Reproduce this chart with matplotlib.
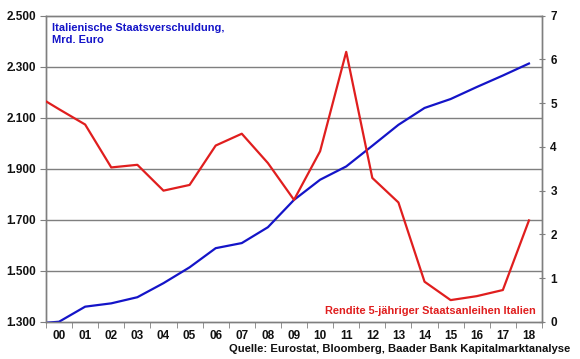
import matplotlib
matplotlib.use("Agg")
import matplotlib.pyplot as plt

plt.rcParams['font.family'] = ['Liberation Sans', 'DejaVu Sans']

# Data
year_pos = [-0.5, 0, 1, 2, 3, 4, 5, 6, 7, 8, 9, 10, 11, 12, 13, 14, 15, 16, 17, 18]
x_labels = ["00", "01", "02", "03", "04", "05", "06", "07", "08", "09",
            "10", "11", "12", "13", "14", "15", "16", "17", "18"]
debt = [1297, 1301, 1360, 1373, 1397, 1452, 1514, 1589, 1609, 1671, 1778,
        1857, 1909, 1990, 2072, 2138, 2173, 2220, 2265, 2312]
yield5 = [5.04, 4.86, 4.51, 3.53, 3.59, 3.00, 3.13, 4.03, 4.30, 3.63, 2.79,
          3.90, 6.17, 3.29, 2.73, 0.92, 0.50, 0.59, 0.73, 2.32]
left_ticks = [1300, 1500, 1700, 1900, 2100, 2300, 2500]
left_labels = ["1.300", "1.500", "1.700", "1.900", "2.100", "2.300", "2.500"]
right_ticks = [0, 1, 2, 3, 4, 5, 6, 7]

BLUE = "#1414c8"
RED = "#e01e1e"

fig = plt.figure(figsize=(5.8, 3.59), dpi=100)
ax = fig.add_axes([0.0793, 0.1031, 0.8552, 0.8537])
ax2 = ax.twinx()

ax.set_ylim(1300, 2500)
ax.set_xlim(-0.5, 18.5)
ax2.set_ylim(0, 7)

ax.set_yticks(left_ticks)
ax.set_yticklabels(left_labels)
for t in left_ticks[1:-1]:
    ax.axhline(t, color="#7f7f7f", lw=1.0, zorder=0)

ax.plot(year_pos, debt, color=BLUE, lw=1.6, zorder=3, clip_on=True)
ax2.plot(year_pos, yield5, color=RED, lw=1.6, zorder=3, clip_on=True)

ax.set_xticks(range(len(x_labels)))
ax.set_xticklabels(x_labels)
ax.set_xticks([i - 0.5 for i in range(len(x_labels) + 1)], minor=True)
ax.tick_params(axis="x", which="major", length=0, pad=6)
ax.tick_params(axis="x", which="minor", length=4, direction="out", color="#7f7f7f")
ax.tick_params(axis="y", length=4, direction="out", color="#7f7f7f", pad=3)
ax2.set_yticks(right_ticks)
ax2.tick_params(axis="y", length=4, direction="inout", color="#7f7f7f", pad=4)

for lab in ax.get_xticklabels() + ax.get_yticklabels() + ax2.get_yticklabels():
    lab.set_fontweight("bold")
    lab.set_fontsize(8.5)
    lab.set_color("#111111")

for a in (ax, ax2):
    for s in a.spines.values():
        s.set_color("#7f7f7f")
        s.set_linewidth(1.0)

ax.text(0.012, 0.975, "Italienische Staatsverschuldung,\nMrd. Euro", transform=ax.transAxes,
        ha="left", va="top", color=BLUE, fontsize=7.9, fontweight="bold", linespacing=1.25)
ax2.text(0.988, 0.02, "Rendite 5-jähriger Staatsanleihen Italien", transform=ax.transAxes,
         ha="right", va="bottom", color=RED, fontsize=7.9, fontweight="bold")

fig.text(0.983, 0.028, "Quelle: Eurostat, Bloomberg, Baader Bank Kapitalmarktanalyse",
         ha="right", va="center", fontsize=8.1, fontweight="bold", color="#111111")

fig.savefig("out.png", dpi=100)
